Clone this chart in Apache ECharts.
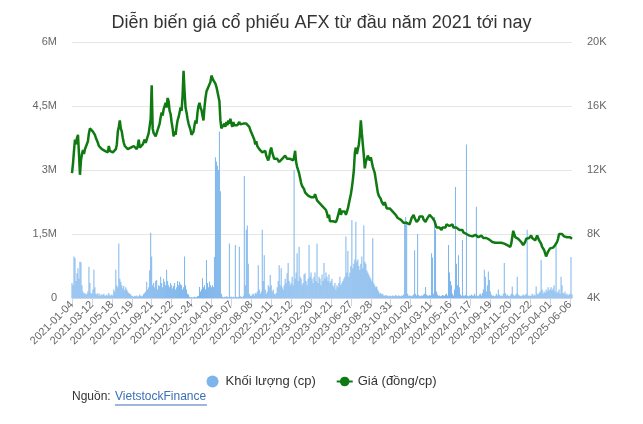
<!DOCTYPE html>
<html>
<head>
<meta charset="utf-8">
<script src="https://cdn.jsdelivr.net/npm/echarts@6/dist/echarts.min.js"></script>
<style>
  html,body{margin:0;padding:0;background:#fff;}
  #chart{width:643px;height:424px;}
</style>
</head>
<body>
<div id="chart"></div>
<script>
// nhãn trục X, mỗi nhãn cách nhau 20 điểm dữ liệu
var tickLabels = ['2021-01-04','2021-03-12','2021-05-18','2021-07-19','2021-09-21','2021-11-22',
  '2022-01-24','2022-04-01','2022-06-07','2022-08-08','2022-10-11','2022-12-12','2023-02-20',
  '2023-04-21','2023-06-27','2023-08-28','2023-10-31','2024-01-02','2024-03-11','2024-05-16',
  '2024-07-17','2024-09-19','2024-11-20','2025-01-22','2025-04-01','2025-06-06']
var step = 20

// giá (nghìn đồng/cp)
var price = [
  11.8,12.4,13.2,13.9,13.6,14.0,14.2,13.0,11.7,12.6,13.0,13.25,13.0,13.3,13.4,13.3,13.8,14.3,14.6,14.5,
  14.6,14.4,14.3,14.2,14.0,13.9,13.7,13.5,13.4,13.5,13.3,13.4,13.3,13.2,13.3,13.25,13.1,13.5,13.2,13.3,
  13.2,13.1,13.2,13.1,13.3,13.6,14.4,14.7,15.1,14.6,14.4,14.0,13.7,13.5,13.6,13.4,13.3,13.4,13.3,13.4,
  13.4,13.3,13.5,13.4,13.45,13.3,13.5,13.9,13.4,13.3,13.4,13.6,13.5,13.9,13.7,13.8,14.1,14.3,14.2,15.2,
  17.3,14.6,14.3,14.4,14.1,14.2,14.5,14.7,14.9,15.3,15.6,15.4,15.8,16.0,16.2,15.9,16.5,16.3,15.7,15.5,
  15.0,14.6,14.1,14.4,14.2,14.7,15.1,15.3,15.6,15.9,15.7,16.6,18.2,16.9,15.9,15.6,15.2,14.9,14.7,14.5,
  14.2,14.1,14.4,14.8,15.1,14.9,15.6,16.0,16.2,15.9,15.75,15.4,15.1,15.9,16.5,16.9,17.0,17.2,17.1,17.5,
  17.9,17.8,17.6,17.7,17.4,17.2,16.9,16.8,16.3,15.1,14.6,14.5,14.7,14.9,14.7,15.0,14.8,15.1,14.9,15.2,
  14.9,14.7,15.0,14.8,14.9,14.7,14.8,14.9,15.0,14.85,14.9,14.8,14.9,15.0,14.8,14.9,14.8,14.9,14.7,14.5,
  14.4,14.2,14.1,13.9,13.6,13.8,13.5,13.4,13.3,13.25,13.4,13.1,13.2,13.0,13.2,12.9,12.8,12.6,12.8,13.2,
  13.4,13.1,12.9,12.7,12.6,12.8,12.7,12.6,12.5,12.6,12.5,12.7,12.8,12.6,12.9,12.8,12.7,12.8,12.6,12.7,
  12.6,12.7,12.6,12.8,13.2,12.5,12.2,12.0,11.8,11.5,11.2,11.0,10.9,10.8,10.6,10.7,10.5,10.4,10.3,10.4,
  10.3,10.2,10.4,10.3,10.5,10.3,10.1,10.2,10.0,9.9,9.8,9.9,9.7,9.6,9.7,9.5,9.3,9.0,9.2,8.8,
  8.8,8.7,8.8,8.9,8.8,8.75,8.9,8.8,9.0,9.6,9.2,9.4,9.3,9.5,9.4,9.2,9.4,9.6,9.9,10.2,
  10.5,10.9,11.4,12.0,13.1,13.4,13.0,13.3,13.6,14.2,15.1,14.3,13.6,12.9,12.1,12.5,12.7,12.9,12.8,12.6,
  12.8,12.7,12.2,12.0,11.8,11.4,11.0,10.6,10.4,10.3,10.2,10.0,9.9,9.8,10.0,9.8,9.6,9.7,9.5,9.6,
  9.6,9.5,9.4,9.3,9.4,9.2,9.1,9.0,8.9,9.1,8.9,8.8,8.9,8.7,8.8,8.6,8.7,8.8,8.7,8.6,
  8.8,9.0,9.1,9.2,9.0,8.9,8.75,8.8,8.9,9.1,9.2,9.0,9.1,8.9,8.8,8.75,8.9,8.8,9.0,9.2,
  9.1,9.25,9.0,8.9,8.8,8.7,8.4,8.5,8.3,8.4,8.3,8.25,8.4,8.3,8.5,8.4,8.6,8.5,8.6,8.5,
  8.6,8.5,8.6,8.4,8.5,8.3,8.4,8.5,8.3,8.25,8.3,8.2,8.25,8.1,8.2,8.1,8.0,8.1,8.0,7.9,
  7.9,7.8,7.85,7.8,7.9,7.95,7.85,7.9,7.8,7.85,7.8,7.9,7.8,7.75,7.8,7.7,7.75,7.8,7.7,7.65,
  7.6,7.55,7.5,7.6,7.5,7.45,7.5,7.4,7.45,7.5,7.4,7.45,7.4,7.35,7.4,7.3,7.35,7.3,7.25,7.3,
  7.2,7.4,7.8,8.2,8.0,7.8,7.9,7.75,7.7,7.6,7.65,7.5,7.4,7.3,7.35,7.5,7.7,7.8,7.7,7.75,
  7.8,7.9,7.75,7.8,7.7,7.6,7.7,7.9,7.8,7.6,7.5,7.4,7.2,7.3,7.0,6.8,6.6,6.5,6.9,7.0,
  7.1,7.0,7.2,7.15,7.2,7.3,7.4,7.5,7.7,8.0,8.1,7.9,8.0,7.9,7.85,7.95,7.9,7.8,7.85,7.8,
  7.8,7.75,7.7
]

// khối lượng (triệu cp)
var volume = [
  0.35,0.3,0.97,0.94,0.4,0.58,0.7,0.45,0.85,0.84,0.3,0.15,0.1,0.12,0.08,0.1,0.15,0.73,0.35,0.12,
  0.1,0.2,0.66,0.25,0.1,0.08,0.12,0.06,0.1,0.05,0.08,0.07,0.1,0.05,0.06,0.08,0.05,0.12,0.07,0.05,
  0.08,0.06,0.2,0.15,0.66,0.3,0.25,1.28,0.45,0.38,0.3,0.22,0.28,0.18,0.25,0.2,0.15,0.12,0.1,0.08,
  0.05,0.04,0.03,0.05,0.04,0.06,0.03,0.04,0.08,0.05,0.04,0.06,0.1,0.12,0.15,0.38,0.2,0.25,0.65,1.53,
  0.97,0.3,0.35,0.25,0.4,0.42,0.2,0.3,0.28,0.5,0.35,0.25,0.45,0.38,0.3,0.66,0.4,0.3,0.25,0.35,
  0.3,0.22,0.28,0.35,0.2,0.25,0.4,0.3,0.38,0.32,0.3,0.2,0.25,0.97,0.3,0.2,0.1,0.08,0.03,0.02,
  0.02,0.01,0.02,0.03,0.02,0.02,0.04,0.05,0.26,0.15,0.2,0.46,0.25,0.3,0.2,0.89,0.35,0.25,0.38,0.3,
  0.25,0.3,0.26,0.96,3.3,3.2,3.1,3.0,3.9,2.5,0.1,0.03,0.02,0.03,0.02,0.04,0.03,0.02,1.28,0.03,
  0.03,0.02,0.03,0.02,1.24,0.03,0.02,0.03,1.2,0.04,0.03,0.02,0.05,2.86,0.3,1.6,1.7,0.8,0.1,0.05,
  0.05,0.08,0.1,0.06,0.12,0.1,0.15,0.77,0.2,0.1,0.15,1.6,0.4,1.0,0.2,0.1,0.15,0.3,0.25,0.54,
  0.3,0.15,0.2,0.1,0.08,0.12,0.25,0.4,0.77,0.3,0.7,0.25,0.2,0.3,0.45,0.35,0.58,0.82,0.4,0.3,
  0.35,0.5,0.3,3.0,0.45,0.6,1.05,0.4,1.2,0.5,0.45,0.3,0.35,0.55,0.58,0.4,0.3,0.45,1.24,0.5,
  0.6,0.45,0.35,0.5,0.6,0.4,1.28,0.35,0.5,0.45,0.3,0.55,0.4,0.82,0.45,0.6,0.5,0.4,0.55,0.35,
  0.4,0.45,0.3,0.25,0.35,0.2,0.3,0.25,0.35,0.5,0.3,0.35,0.4,0.45,0.5,1.44,0.6,1.1,0.5,0.6,
  0.75,1.83,0.7,0.8,0.9,1.79,0.85,0.9,0.75,0.66,0.8,0.97,0.7,1.7,0.85,0.8,0.65,0.6,0.55,0.5,
  0.45,0.4,1.4,0.35,0.3,0.25,0.27,0.2,0.15,0.1,0.12,0.08,0.1,0.06,0.05,0.07,0.05,0.06,0.04,0.05,
  0.05,0.04,0.06,0.05,0.04,0.07,0.05,0.04,0.06,0.05,0.04,0.06,0.05,0.08,1.75,1.9,1.8,0.1,0.05,0.06,
  0.05,0.04,0.06,0.08,1.12,0.1,0.06,1.5,0.07,0.05,0.04,0.06,0.05,0.08,0.1,0.26,0.08,0.06,0.05,0.07,
  0.06,1.05,0.95,0.1,1.9,1.6,0.15,0.08,0.05,0.06,0.04,0.05,0.07,0.06,0.05,0.08,0.1,0.06,1.24,0.6,
  0.4,0.3,0.1,0.06,0.2,2.6,0.8,0.3,1.0,0.25,0.08,0.05,1.36,0.06,0.05,0.07,3.6,0.05,0.04,0.06,
  0.05,0.08,0.06,0.05,0.1,0.06,2.14,0.05,0.04,0.08,0.1,0.06,0.12,0.2,0.66,0.5,0.15,0.3,0.62,0.42,
  0.15,0.08,0.05,0.06,0.04,0.05,0.1,0.06,0.2,0.08,0.05,0.06,0.04,0.1,0.82,0.12,0.06,0.08,0.05,0.04,
  0.06,0.1,0.27,0.08,0.05,0.06,0.1,0.5,0.08,0.06,0.05,0.04,0.06,0.08,0.05,0.07,0.1,1.6,0.06,0.05,
  0.05,0.06,0.1,0.05,0.08,0.06,0.27,0.1,0.08,0.12,0.15,0.89,0.2,0.1,0.15,0.12,0.2,0.15,0.25,0.18,
  0.2,0.25,0.18,0.22,0.3,0.15,1.3,0.12,0.15,0.2,0.1,0.5,0.3,0.12,0.1,0.15,0.08,0.1,0.06,0.08,
  0.1,0.96,0.08
]

var FONT = '"Liberation Sans", Arial, sans-serif'
var showTick = function(i){ return i % step === 0 }
var categories = price.map(function(v, i){
  return showTick(i) ? tickLabels[i / step] : 'p' + i
})

var chart = echarts.init(document.getElementById('chart'))
chart.setOption({
  animation: false,
  textStyle: {fontFamily: FONT},
  title: {
    text: 'Diễn biến giá cổ phiếu AFX từ đầu năm 2021 tới nay',
    left: 'center',
    top: 9,
    textStyle: {fontSize: 18, fontWeight: 'normal', color: '#333', fontFamily: FONT}
  },
  legend: {
    left: 'center',
    top: 370,
    itemGap: 20,
    itemWidth: 16,
    itemHeight: 12,
    textStyle: {fontSize: 13, color: '#333', fontFamily: FONT},
    data: [
      {name: 'Khối lượng (cp)', icon: 'circle'},
      {name: 'Giá (đồng/cp)'}
    ]
  },
  grid: {left: 72, right: 71, top: 42, bottom: 126},
  xAxis: {
    type: 'category',
    boundaryGap: false,
    data: categories,
    axisLine: {lineStyle: {color: '#ccd6eb'}},
    axisTick: {interval: showTick, length: 8, lineStyle: {color: '#ccd6eb'}},
    axisLabel: {
      interval: showTick,
      rotate: 45,
      margin: 5,
      fontSize: 11,
      color: '#666',
      fontFamily: FONT
    }
  },
  yAxis: [
    {
      type: 'value',
      min: 0, max: 6, interval: 1.5,
      axisLabel: {
        margin: 15, fontSize: 11, color: '#666', fontFamily: FONT,
        formatter: function(v){ return v === 0 ? '0' : String(v).replace('.', ',') + 'M' }
      },
      splitLine: {lineStyle: {color: '#e6e6e6'}},
      axisLine: {show: false}, axisTick: {show: false}
    },
    {
      type: 'value',
      min: 4, max: 20, interval: 4,
      axisLabel: {
        margin: 15, fontSize: 11, color: '#666', fontFamily: FONT,
        formatter: function(v){ return v + 'K' }
      },
      splitLine: {show: false},
      axisLine: {show: false}, axisTick: {show: false}
    }
  ],
  series: [
    {
      name: 'Khối lượng (cp)',
      type: 'bar',
      yAxisIndex: 0,
      data: volume,
      barWidth: 0.8,
      itemStyle: {color: '#7cb5ec'}
    },
    {
      name: 'Giá (đồng/cp)',
      type: 'line',
      yAxisIndex: 1,
      data: price,
      symbol: 'circle',
      symbolSize: 8,
      showSymbol: false,
      lineStyle: {color: '#0f7a12', width: 2.5},
      itemStyle: {color: '#0f7a12'}
    }
  ],
  graphic: [
    {
      type: 'text', left: 72, top: 391,
      style: {text: 'Nguồn: ', fontSize: 12, fill: '#333', fontFamily: FONT}
    },
    {
      type: 'text', left: 115, top: 391,
      style: {text: 'VietstockFinance', fontSize: 12, fill: '#3d6fb6', fontFamily: FONT}
    },
    {
      type: 'line', shape: {x1: 115, y1: 405, x2: 207, y2: 405},
      style: {stroke: '#3d6fb6', lineWidth: 1}
    }
  ]
})
</script>
</body>
</html>
